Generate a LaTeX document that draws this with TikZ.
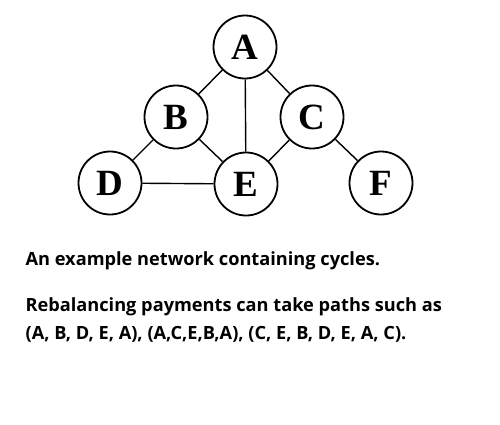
\documentclass[tikz,border=0pt]{standalone}
\usepackage{fontspec}
\setmainfont{Liberation Serif}
\newfontfamily\capfont{Open Sans}
\usetikzlibrary{positioning}
\tikzset{
  every picture/.style={line width=1.2pt},
  vtx/.style={circle,draw=black,fill=white,line width=1.8pt,minimum size=63pt,inner sep=0pt,
    font=\fontsize{37}{37}\selectfont\bfseries},
  edg/.style={draw=black,line width=1.4pt},
  captxt/.style={anchor=base west,inner sep=0pt,font=\capfont\bfseries\fontsize{18.2}{22}\selectfont},
}
\begin{document}
\begin{tikzpicture}[x=1pt,y=-1pt]
  \useasboundingbox (0,0) rectangle (500,424);
  % network
  \foreach \n/\x/\y in {A/245/47,B/176/117,C/312/117,D/110/183,E/246/184,F/381/183}
    \node[vtx] (\n) at (\x,\y) {\n};
  \foreach \a/\b in {A/B,A/C,A/E,B/D,B/E,C/E,C/F,D/E}
    \draw[edg] (\a) -- (\b);
  % caption
  \node[captxt] (cap1) at (25,265) {An example network containing cycles.};
  \node[captxt] (cap2) at (25,311) {Rebalancing payments can take paths such as};
  \node[captxt] (cap3) at (25,339) {(A, B, D, E, A), (A,C,E,B,A), (C, E, B, D, E, A, C).};
\end{tikzpicture}
\end{document}
